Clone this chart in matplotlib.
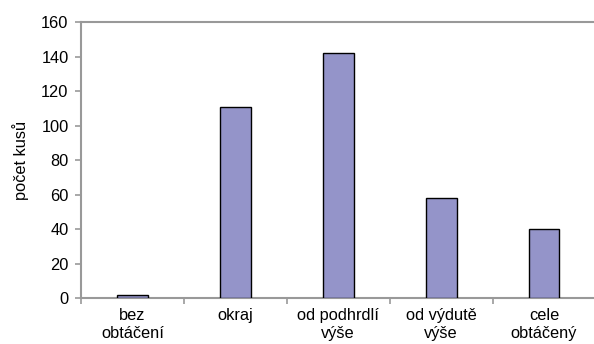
import matplotlib
matplotlib.use("Agg")
import matplotlib.pyplot as plt
import numpy as np

# --- Data --------------------------------------------------------------------
categories = ["bez\nobtáčení", "okraj", "od podhrdlí\nvýše", "od výdutě\nvýše", "cele\nobtáčený"]
counts = [2, 111, 142, 58, 40]
y_ticks = [0, 20, 40, 60, 80, 100, 120, 140, 160]

BAR_COLOR = "#9494c9"
AXIS_COLOR = "#999999"
FS = 11.8

plt.rcParams["font.family"] = ["Liberation Sans", "DejaVu Sans"]

fig = plt.figure(figsize=(5.94, 3.44), dpi=100)
ax = fig.add_axes([0.1364, 0.1337, 0.8660, 0.8023])

x = np.arange(len(categories))
ax.bar(x, counts, width=0.3, color=BAR_COLOR, edgecolor="black", linewidth=1.0, zorder=3)

ax.set_xlim(-0.5, len(categories) - 0.5)
ax.set_ylim(0, 160)
ax.set_yticks(y_ticks)
ax.set_yticklabels([str(v) for v in y_ticks], fontsize=FS)

# category labels centred, tick marks on the category boundaries
ax.set_xticks(x)
ax.set_xticklabels(categories, fontsize=FS, linespacing=1.25)
ax.tick_params(axis="x", which="major", length=0, pad=7)
ax.set_xticks(np.arange(-0.5, len(categories), 1.0), minor=True)
ax.tick_params(axis="x", which="minor", length=4, color=AXIS_COLOR, width=1.2)
ax.tick_params(axis="y", length=4, color=AXIS_COLOR, width=1.2, pad=5)

for side in ["left", "bottom", "top"]:
    ax.spines[side].set_color(AXIS_COLOR)
    ax.spines[side].set_linewidth(1.5)
ax.spines["right"].set_visible(False)

ax.set_ylabel("počet kusů", fontsize=FS, labelpad=9)

fig.savefig("out.png", dpi=100)
